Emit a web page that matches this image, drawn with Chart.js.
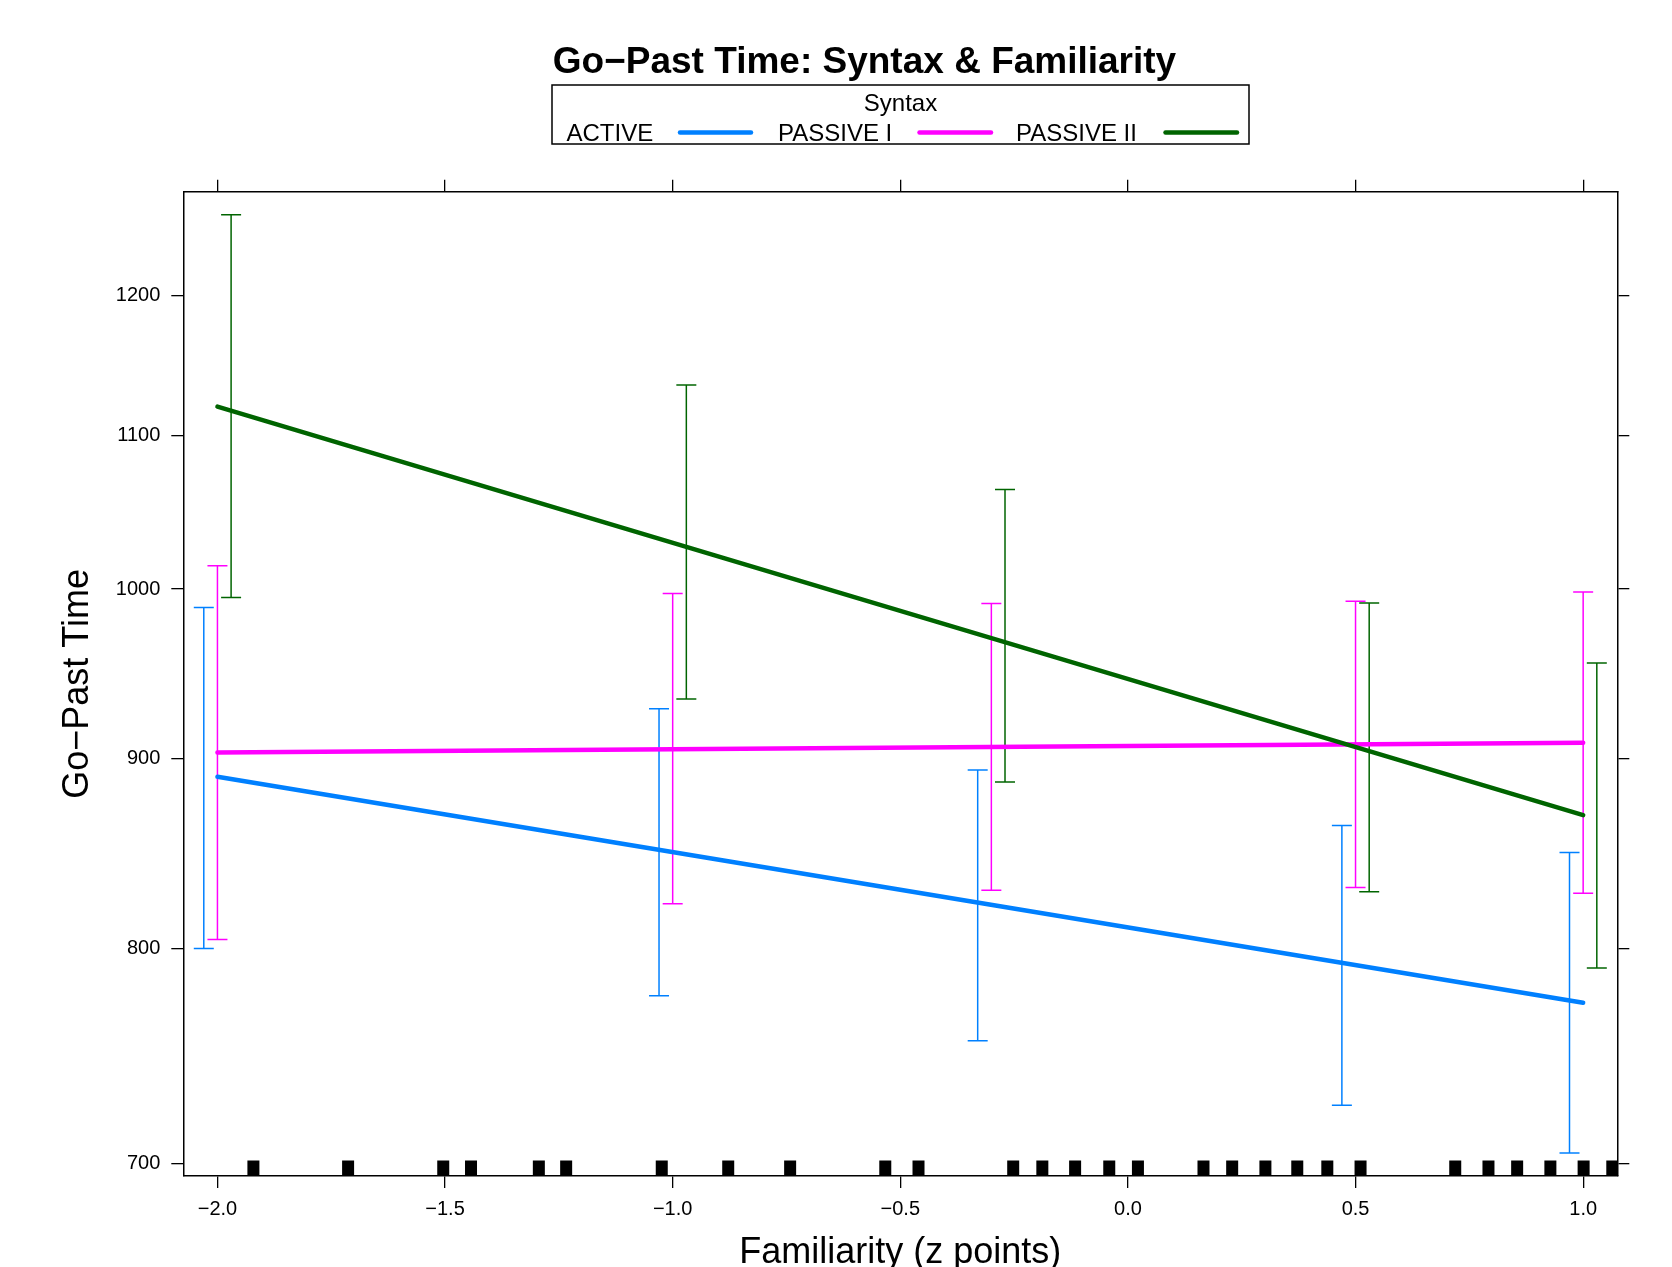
<!DOCTYPE html>
<html>
<head>
<meta charset="utf-8">
<title>Go-Past Time: Syntax &amp; Familiarity</title>
<script src="https://cdn.jsdelivr.net/npm/chart.js@4.4.1/dist/chart.umd.min.js"></script>
<style>
  html, body { margin: 0; padding: 0; background: #fff; }
  #chart { display: block; }
</style>
</head>
<body>
<canvas id="chart" width="1672" height="1267"></canvas>
<script>
const FONT = '"Liberation Sans", Arial, Helvetica, sans-serif';

// ---------------------- Data ----------------------
const seriesNames = ["ACTIVE", "PASSIVE I", "PASSIVE II"];
const seriesColors = ["#0080ff", "#ff00ff", "#006400"];

// familiarity values where the effects were evaluated
const familiarity = [-2.0, -1.0, -0.3, 0.5, 1.0];
// fitted lines (ends of the fit range)
const fitX = [-2.0, 1.0];
const activeFit = [890.0, 773.5];
const passive1Fit = [903.5, 909.0];
const passive2Fit = [1119.9, 869.0];

// confidence limits
const activeLower = [800.0, 776.9, 755.4, 725.8, 704.6];
const activeUpper = [988.6, 928.4, 893.7, 863.4, 849.1];
const passive1Lower = [804.5, 822.5, 829.4, 830.9, 827.9];
const passive1Upper = [1014.6, 997.3, 991.0, 992.5, 998.1];
const passive2Lower = [994.7, 934.0, 887.1, 828.7, 790.4];
const passive2Upper = [1261.6, 1135.1, 1063.8, 991.4, 955.1];

// observed familiarity scores (rug)
const rugValues = [
  -1.921, -1.713, -1.504, -1.443, -1.294, -1.234, -1.024,
  -0.878, -0.742, -0.533, -0.460, -0.252, -0.188, -0.116, -0.041, 0.022,
  0.166, 0.229, 0.302, 0.372, 0.438, 0.511,
  0.719, 0.792, 0.855, 0.928, 1.001, 1.064
];

const xTicks = [-2.0, -1.5, -1.0, -0.5, 0.0, 0.5, 1.0];
const yTicks = [700, 800, 900, 1000, 1100, 1200];

const X_MIN = -2.075, X_MAX = 1.075;
const Y_MIN = 694.6, Y_MAX = 1279.8;

// side-by-side offset of the error bars per group
const DODGE = [-0.03, 0, 0.03];

// ---------------------- Datasets ----------------------
const fits = [activeFit, passive1Fit, passive2Fit];
const lowers = [activeLower, passive1Lower, passive2Lower];
const uppers = [activeUpper, passive1Upper, passive2Upper];

function fitDataset(i) {
  return {
    label: seriesNames[i],
    data: fitX.map((x, k) => ({ x: x, y: fits[i][k] })),
    borderColor: seriesColors[i],
    borderWidth: 4.5,
    borderCapStyle: "round",
    pointRadius: 0,
    order: 2 - i
  };
}

function errorDataset(i) {
  const pts = [];
  familiarity.forEach((x, k) => {
    const xx = x + DODGE[i];
    pts.push({ x: xx, y: lowers[i][k] });
    pts.push({ x: xx, y: uppers[i][k] });
    pts.push({ x: xx, y: null });
  });
  return {
    label: seriesNames[i] + " CI",
    data: pts,
    borderColor: seriesColors[i],
    borderWidth: 1.5,
    spanGaps: false,
    pointStyle: "line",
    pointRadius: 10,
    pointBorderWidth: 1.5,
    pointBorderColor: seriesColors[i],
    order: 5 - i
  };
}

const datasets = [
  fitDataset(2), fitDataset(1), fitDataset(0),
  errorDataset(2), errorDataset(1), errorDataset(0)
];

// ---------------------- Plugins ----------------------
const decor = {
  id: "decor",
  beforeDraw(chart) {
    const { ctx, width, height } = chart;
    ctx.save();
    ctx.fillStyle = "#fff";
    ctx.fillRect(0, 0, width, height);
    ctx.restore();
  },
  afterDatasetsDraw(chart) {
    // rug along the bottom of the panel
    const { ctx, chartArea } = chart;
    const xs = chart.scales.x;
    ctx.save();
    ctx.beginPath();
    ctx.rect(chartArea.left, chartArea.top, chartArea.right - chartArea.left, chartArea.bottom - chartArea.top);
    ctx.clip();
    ctx.fillStyle = "#000";
    rugValues.forEach(v => {
      const px = xs.getPixelForValue(v);
      ctx.fillRect(px - 6, chartArea.bottom - 15.5, 12, 15.5);
    });
    ctx.restore();
  },
  afterDraw(chart) {
    const { ctx } = chart;
    ctx.save();
    ctx.fillStyle = "#000";

    // main title
    ctx.font = "bold 37px " + FONT;
    ctx.textAlign = "center";
    ctx.textBaseline = "alphabetic";
    ctx.fillText("Go\u2212Past Time: Syntax & Familiarity", 864.5, 73);

    // legend box
    ctx.strokeStyle = "#000";
    ctx.lineWidth = 1.5;
    ctx.strokeRect(552, 85, 697, 59);

    ctx.font = "24px " + FONT;
    ctx.fillText("Syntax", 900.5, 111);

    const textX = [566.5, 778, 1016];
    const lineX = [[680, 751], [919.5, 991], [1165.5, 1237]];
    ctx.textAlign = "left";
    seriesNames.forEach((name, i) => {
      ctx.fillStyle = "#000";
      ctx.fillText(name, textX[i], 141);
      ctx.strokeStyle = seriesColors[i];
      ctx.lineWidth = 4.5;
      ctx.lineCap = "round";
      ctx.beginPath();
      ctx.moveTo(lineX[i][0], 132.5);
      ctx.lineTo(lineX[i][1], 132.5);
      ctx.stroke();
    });
    ctx.restore();
  }
};

// ---------------------- Scales ----------------------
const tickFont = { family: FONT, size: 20 };
const tickGrid = { drawOnChartArea: false, drawTicks: true, tickLength: 12, color: "#000", lineWidth: 1.3 };
const frameBorder = { display: true, color: "#000", width: 1.5 };

function fmtX(v) {
  return Number(v).toFixed(1).replace("-", "\u2212");
}

const scales = {
  x: {
    type: "linear",
    position: "bottom",
    min: X_MIN, max: X_MAX,
    bounds: "data",
    afterBuildTicks: s => { s.ticks = xTicks.map(v => ({ value: v })); },
    afterFit: s => { s.height = 91; },
    ticks: { color: "#000", font: tickFont, padding: 9, maxRotation: 0, autoSkip: false, callback: v => fmtX(v) },
    grid: tickGrid,
    border: frameBorder,
    title: {
      display: true,
      text: "Familiarity (z points)",
      color: "#000",
      font: { family: FONT, size: 36, lineHeight: 1 },
      padding: { top: 0, bottom: -4.5 }
    }
  },
  x2: {
    type: "linear",
    position: "top",
    min: X_MIN, max: X_MAX,
    bounds: "data",
    afterBuildTicks: s => { s.ticks = xTicks.map(v => ({ value: v })); },
    afterFit: s => { s.height = 191.7; },
    ticks: { display: false },
    grid: tickGrid,
    border: frameBorder
  },
  y: {
    type: "logarithmic",
    position: "left",
    min: Y_MIN, max: Y_MAX,
    bounds: "data",
    afterBuildTicks: s => { s.ticks = yTicks.map(v => ({ value: v })); },
    afterFit: s => { s.width = 183.3; },
    ticks: { color: "#000", font: tickFont, padding: 11, autoSkip: false, callback: v => String(v) },
    grid: tickGrid,
    border: frameBorder,
    title: {
      display: true,
      text: "Go\u2212Past Time",
      color: "#000",
      font: { family: FONT, size: 36, lineHeight: 1 },
      padding: { top: 60, bottom: 0 }
    }
  },
  y2: {
    type: "logarithmic",
    position: "right",
    min: Y_MIN, max: Y_MAX,
    bounds: "data",
    afterBuildTicks: s => { s.ticks = yTicks.map(v => ({ value: v })); },
    afterFit: s => { s.width = 54.7; },
    ticks: { display: false },
    grid: tickGrid,
    border: frameBorder
  }
};

// ---------------------- Chart ----------------------
new Chart(document.getElementById("chart"), {
  type: "line",
  data: { datasets: datasets },
  options: {
    responsive: false,
    animation: false,
    events: [],
    layout: { padding: 0 },
    plugins: {
      legend: { display: false },
      tooltip: { enabled: false },
      title: { display: false }
    },
    scales: scales
  },
  plugins: [decor]
});
</script>
</body>
</html>
